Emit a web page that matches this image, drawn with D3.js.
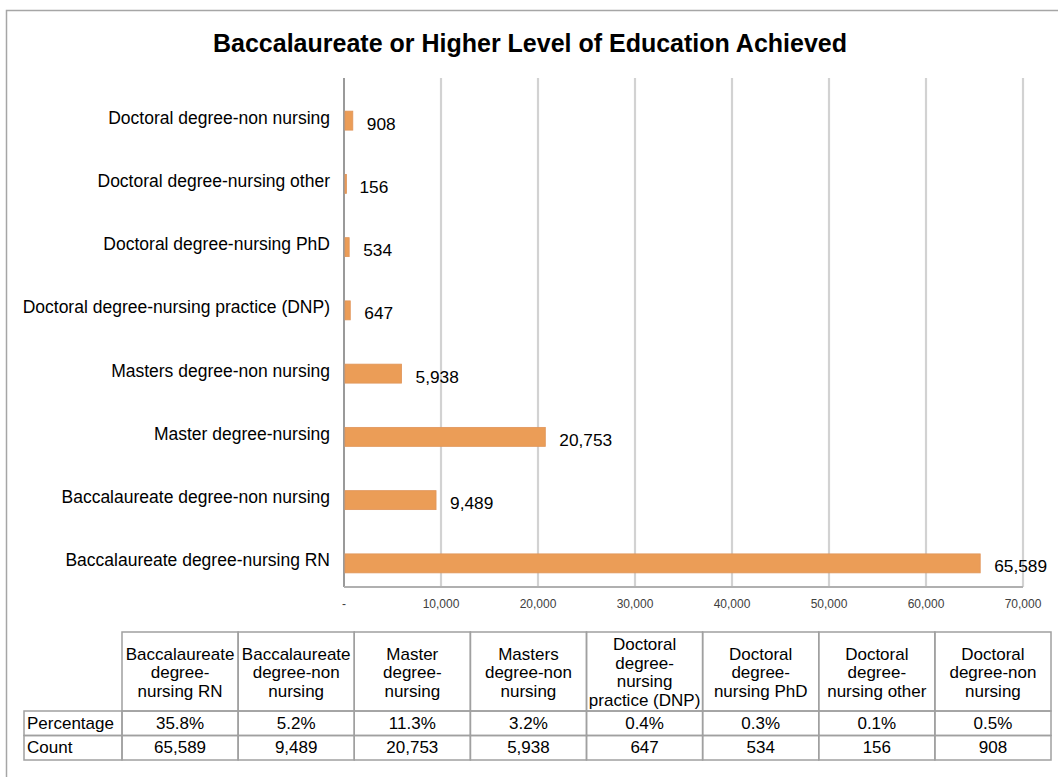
<!DOCTYPE html>
<html>
<head>
<meta charset="utf-8">
<script src="https://cdn.jsdelivr.net/npm/d3@7"></script>
<style>
  body { margin: 0; background: #fff; }
  text { font-family: "Liberation Sans", Arial, sans-serif; fill: #000; }
</style>
</head>
<body>
<div id="chart"></div>
<script>
// categories in table order (bottom bar first)
const categories = [
    'Baccalaureate degree-nursing RN',
    'Baccalaureate degree-non nursing',
    'Master degree-nursing',
    'Masters degree-non nursing',
    'Doctoral degree-nursing practice (DNP)',
    'Doctoral degree-nursing PhD',
    'Doctoral degree-nursing other',
    'Doctoral degree-non nursing'
];
const counts = [65589, 9489, 20753, 5938, 647, 534, 156, 908];
const percentages = ['35.8%', '5.2%', '11.3%', '3.2%', '0.4%', '0.3%', '0.1%', '0.5%'];
// how the table header wraps each category
const headerLines = [
    ['Baccalaureate', 'degree-', 'nursing RN'],
    ['Baccalaureate', 'degree-non', 'nursing'],
    ['Master', 'degree-', 'nursing'],
    ['Masters', 'degree-non', 'nursing'],
    ['Doctoral', 'degree-', 'nursing', 'practice (DNP)'],
    ['Doctoral', 'degree-', 'nursing PhD'],
    ['Doctoral', 'degree-', 'nursing other'],
    ['Doctoral', 'degree-non', 'nursing']
];
const xTicks = [0, 10000, 20000, 30000, 40000, 50000, 60000, 70000];
const rowNames = ['Percentage', 'Count'];

const width = 1058, height = 777;
const fmt = d3.format(',');

const svg = d3.select('#chart').append('svg')
    .attr('width', width)
    .attr('height', height);

// outer chart border
svg.append('rect')
    .attr('x', 6.5).attr('y', 10.5)
    .attr('width', 1100).attr('height', 900)
    .attr('fill', 'none')
    .attr('stroke', '#a6a6a6')
    .attr('stroke-width', 1.5);

svg.append('text')
    .attr('x', 530).attr('y', 52)
    .attr('text-anchor', 'middle')
    .style('font-size', '25px')
    .style('font-weight', 'bold')
    .text('Baccalaureate or Higher Level of Education Achieved');

// scales
const plotTop = 78, plotBottom = 587;
const x = d3.scaleLinear().domain([0, 70000]).range([344, 1023]);
const y = d3.scaleBand()
    .domain(categories.slice().reverse())
    .range([89, 595])
    .paddingInner(0.7)
    .paddingOuter(0.35);

// gridlines
svg.append('g').selectAll('line')
    .data(xTicks.slice(1))
    .enter().append('line')
    .attr('x1', d => x(d)).attr('x2', d => x(d))
    .attr('y1', plotTop).attr('y2', plotBottom)
    .attr('stroke', '#d2d2d2')
    .attr('stroke-width', 2.2);

// axis lines
svg.append('line')
    .attr('x1', x(0)).attr('x2', x(0))
    .attr('y1', plotTop).attr('y2', plotBottom)
    .attr('stroke', '#9a9a9a').attr('stroke-width', 2);
svg.append('line')
    .attr('x1', x(0)).attr('x2', x(70000))
    .attr('y1', plotBottom).attr('y2', plotBottom)
    .attr('stroke', '#b0b0b0').attr('stroke-width', 2);

// tick labels
svg.append('g').selectAll('text')
    .data(xTicks)
    .enter().append('text')
    .attr('x', d => x(d))
    .attr('y', 608)
    .attr('text-anchor', 'middle')
    .style('font-size', '12px')
    .style('fill', '#404040')
    .text(d => d === 0 ? '-' : fmt(d));

// bars
svg.append('g').selectAll('rect')
    .data(categories)
    .enter().append('rect')
    .attr('x', x(0) + 1)
    .attr('y', d => y(d))
    .attr('width', (d, i) => Math.max(1.5, x(counts[i]) - x(0) - 1))
    .attr('height', y.bandwidth())
    .attr('fill', '#eb9d57')
    .attr('stroke', '#e0955a')
    .attr('stroke-width', 0.8);

// category labels
svg.append('g').selectAll('text')
    .data(categories)
    .enter().append('text')
    .attr('x', 330)
    .attr('y', d => y(d) + y.bandwidth() / 2 - 3)
    .attr('text-anchor', 'end')
    .attr('dominant-baseline', 'central')
    .style('font-size', '17.5px')
    .text(d => d);

// value labels
svg.append('g').selectAll('text')
    .data(categories)
    .enter().append('text')
    .attr('x', (d, i) => x(counts[i]) + 14)
    .attr('y', d => y(d) + y.bandwidth() / 2 + 3)
    .attr('dominant-baseline', 'central')
    .style('font-size', '17.3px')
    .text((d, i) => fmt(counts[i]));

// data table
const tX = 24, labelW = 98, tRight = 1051;
const colW = (tRight - tX - labelW) / categories.length;
const headTop = 632, headBottom = 711, rowH = 24.5;
const table = svg.append('g');
const border = '#a0a0a0';
const tFont = '17px';

// header cells
categories.forEach((c, i) => {
    const cx = tX + labelW + i * colW;
    table.append('rect')
        .attr('x', cx).attr('y', headTop)
        .attr('width', colW).attr('height', headBottom - headTop)
        .attr('fill', 'none').attr('stroke', border).attr('stroke-width', 1.5);
    const lines = headerLines[i];
    const lh = 18.5;
    const mid = (headTop + headBottom) / 2 + 1;
    const t = table.append('text')
        .attr('text-anchor', 'middle')
        .style('font-size', tFont);
    lines.forEach((l, j) => {
        t.append('tspan')
            .attr('x', cx + colW / 2)
            .attr('y', mid + (j - (lines.length - 1) / 2) * lh)
            .attr('dominant-baseline', 'central')
            .text(l);
    });
});

// body rows
const rowValues = [percentages, counts.map(fmt)];
rowNames.forEach((name, r) => {
    const ry = headBottom + r * rowH;
    table.append('rect')
        .attr('x', tX).attr('y', ry)
        .attr('width', labelW).attr('height', rowH)
        .attr('fill', 'none').attr('stroke', border).attr('stroke-width', 1.5);
    table.append('text')
        .attr('x', tX + 3).attr('y', ry + rowH / 2)
        .attr('dominant-baseline', 'central')
        .style('font-size', tFont)
        .text(name);
    rowValues[r].forEach((v, i) => {
        const cx = tX + labelW + i * colW;
        table.append('rect')
            .attr('x', cx).attr('y', ry)
            .attr('width', colW).attr('height', rowH)
            .attr('fill', 'none').attr('stroke', border).attr('stroke-width', 1.5);
        table.append('text')
            .attr('x', cx + colW / 2).attr('y', ry + rowH / 2)
            .attr('text-anchor', 'middle')
            .attr('dominant-baseline', 'central')
            .style('font-size', tFont)
            .text(v);
    });
});
</script>
</body>
</html>
